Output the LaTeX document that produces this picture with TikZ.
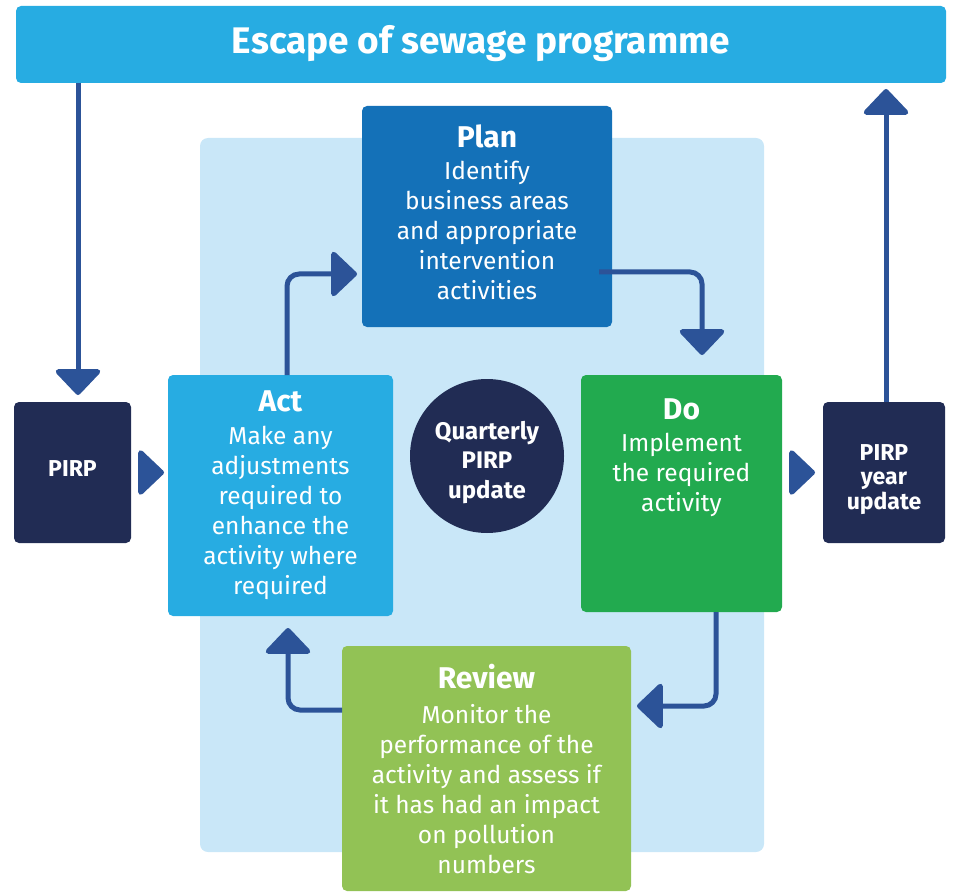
\documentclass[tikz,border=0pt]{standalone}
\usepackage{fontspec}
\setmainfont{Fira Sans}
\usetikzlibrary{arrows.meta}
\definecolor{sky}{HTML}{27ACE2}
\definecolor{planblue}{HTML}{1471B8}
\definecolor{dogreen}{HTML}{22AA4F}
\definecolor{revgreen}{HTML}{92C255}
\definecolor{navy}{HTML}{212C54}
\definecolor{arrowblue}{HTML}{2C5398}
\definecolor{panel}{HTML}{C9E7F8}
\tikzset{
  box/.style={rectangle, rounded corners=5pt, inner sep=0pt, outer sep=0pt},
  ttl/.style={text=white, font=\bfseries\fontsize{30}{36}\selectfont, anchor=base, inner sep=0pt},
  body/.style={text=white, font=\fontsize{24.5}{30}\selectfont, align=center, anchor=base, inner sep=0pt},
  bld/.style={text=white, font=\bfseries\fontsize{23}{25}\selectfont, align=center, anchor=base, inner sep=0pt},
  arr/.style={draw=arrowblue, line width=5pt, rounded corners=12pt,
    -{Triangle[width=50pt,length=27pt,round]}}
}
\begin{document}
\begin{tikzpicture}[x=1pt,y=-1pt]
\useasboundingbox (0,0) rectangle (953,893);
\fill[panel, rounded corners=8pt] (200,138) rectangle (764,852);
% boxes
\node[box, fill=sky, minimum width=930, minimum height=77] (banner) at (481,44.5) {};
\node[text=white, font=\bfseries\fontsize{37}{40}\selectfont, anchor=base, inner sep=0pt] (bannertxt) at (481,54) {Escape of sewage programme};
\node[box, fill=planblue, minimum width=250, minimum height=221] (plan) at (487,216.5) {};
\node[box, fill=sky, minimum width=225, minimum height=241] (act) at (280.5,495.5) {};
\node[box, fill=dogreen, minimum width=201, minimum height=237] (do) at (681.5,493.5) {};
\node[box, fill=revgreen, minimum width=289, minimum height=245] (review) at (486.5,768.5) {};
\node[box, fill=navy, minimum width=117, minimum height=141] (pirp) at (72.5,472.5) {};
\node[box, fill=navy, minimum width=122, minimum height=141] (year) at (884,472.5) {};
\node[circle, fill=navy, minimum size=154, inner sep=0pt] (quarter) at (487,456) {};
% texts (multi-line nodes: base = last line's baseline)
\node[ttl] (plant) at (487,148) {Plan};
\node[body] (planb) at (487,300) {Identify\\business areas\\and appropriate\\intervention\\activities};
\node[ttl] (actt) at (280.5,411) {Act};
\node[body] (actb) at (280.5,594) {Make any\\adjustments\\required to\\enhance the\\activity where\\required};
\node[ttl] (dot) at (681.5,419) {Do};
\node[body] (dob) at (681.5,511) {Implement\\the required\\activity};
\node[ttl] (revt) at (486.5,688) {Review};
\node[body] (revb) at (486.5,873) {Monitor the\\performance of the\\activity and assess if\\it has had an impact\\on pollution\\numbers};
\node[bld, font=\bfseries\fontsize{24}{29.5}\selectfont] (quartert) at (487,498) {Quarterly\\PIRP\\update};
\node[bld] (pirpt) at (72.5,476) {PIRP};
\node[bld, font=\bfseries\fontsize{23}{24.5}\selectfont] (yeart) at (884,509) {PIRP\\year\\update};
% connectors
\draw[arr, shorten >=7pt] (banner.south -| 78,0) -- (pirp.north -| 78,0);
\draw[arr, shorten >=4pt, shorten <=8pt] (pirp.east) -- (act.west |- pirp.east);
\draw[arr, shorten >=5pt] (act.north -| 287,0) |- (plan.west |- 0,274);
\draw[arr, shorten >=20pt, shorten <=-13pt] (plan.east |- 0,272) -| (do.north -| 702,0);
\draw[arr, shorten >=6pt] (do.south -| 716,0) |- (review.east |- 0,706);
\draw[arr, shorten >=12pt] (review.west |- 0,710) -| (act.south -| 288,0);
\draw[arr, shorten >=8pt, shorten <=7pt] (do.east |- year.west) -- (year.west);
\draw[arr, shorten >=6pt] (year.north -| 886,0) -- (banner.south -| 886,0);
\end{tikzpicture}
\end{document}
